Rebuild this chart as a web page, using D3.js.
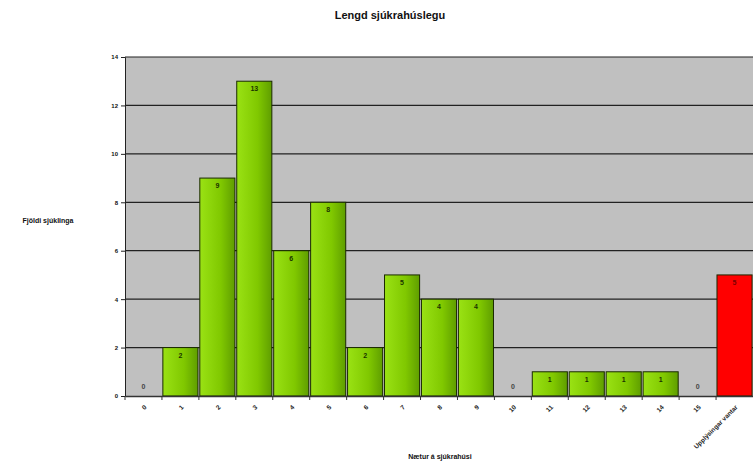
<!DOCTYPE html>
<html><head><meta charset="utf-8">
<script src="https://cdn.jsdelivr.net/npm/d3@7"></script>
<style>body{margin:0;background:#fff}svg{display:block;font-family:Arial,"Liberation Sans",sans-serif}</style>
</head><body>
<script>
const categories = ["0","1","2","3","4","5","6","7","8","9","10","11","12","13","14","15","Upplýsingar vantar"];
const values = [0,2,9,13,6,8,2,5,4,4,0,1,1,1,1,0,5];
const yTicks = [0,2,4,6,8,10,12,14];
const title = "Lengd sjúkrahúslegu";
const yTitle = "Fjöldi sjúklinga";
const xTitle = "Nætur á sjúkrahúsi";

const W = 753, H = 464;
const m = {left:125, right:0, top:57, bottom:68};
const svg = d3.select("body").append("svg").attr("width",W).attr("height",H);
const defs = svg.append("defs");
const g1 = defs.append("linearGradient").attr("id","gr").attr("x1","0").attr("x2","1").attr("y1","0").attr("y2","0");
g1.append("stop").attr("offset","0").attr("stop-color","#9ae214");
g1.append("stop").attr("offset","0.6").attr("stop-color","#80c800");
g1.append("stop").attr("offset","1").attr("stop-color","#5f9e00");

const x = d3.scaleBand().domain(categories).range([m.left, W-m.right]).paddingInner(0.05).paddingOuter(0.025);
const y = d3.scaleLinear().domain([0,14]).range([H-m.bottom, m.top]);

svg.append("rect").attr("x",m.left).attr("y",m.top).attr("width",W-m.right-m.left).attr("height",H-m.bottom-m.top).attr("fill","#c0c0c0");

// grid
svg.append("g").selectAll("line").data(yTicks.filter(d=>d>0)).join("line")
  .attr("x1",m.left).attr("x2",W-m.right).attr("y1",d=>y(d)).attr("y2",d=>y(d))
  .attr("stroke","#222").attr("stroke-width",1.2);

// bars
svg.append("g").selectAll("rect").data(values).join("rect")
  .attr("x",(d,i)=>x(categories[i])).attr("width",x.bandwidth())
  .attr("y",d=>y(d)).attr("height",d=>y(0)-y(d))
  .attr("fill",(d,i)=>i===categories.length-1?"#ff0000":"url(#gr)")
  .attr("stroke","#1a2a00").attr("stroke-width",1)
  .attr("display",d=>d>0?null:"none");

// value labels
svg.append("g").selectAll("text").data(values).join("text")
  .attr("x",(d,i)=>x(categories[i])+x.bandwidth()/2)
  .attr("y",d=>d>0?y(d)+10:y(0)-7)
  .attr("text-anchor","middle").attr("font-size",7).attr("font-weight","bold")
  .attr("fill",(d,i)=>i===categories.length-1?"#7a0000":(d>0?"#1a3300":"#444"))
  .text(d=>d);

// y axis
const ya = svg.append("g").attr("transform",`translate(${m.left},0)`)
  .call(d3.axisLeft(y).tickValues(yTicks).tickSize(4).tickPadding(3));
ya.selectAll("text").attr("font-size",6).attr("font-weight","bold").attr("fill","#111");
ya.select(".domain").attr("stroke","#222");
ya.selectAll(".tick line").attr("stroke","#222");

// x axis
const xa = svg.append("g").attr("transform",`translate(0,${y(0)})`)
  .call(d3.axisBottom(x).tickSize(0).tickPadding(0));
xa.select(".domain").attr("stroke","#333").attr("stroke-width",1.5);
xa.selectAll(".tick text").attr("font-size",6.5).attr("font-weight","bold").attr("fill","#222")
  .attr("text-anchor","end").attr("transform","translate(2,10) rotate(-45)").attr("dy","0.35em");
// boundary ticks
const bounds = categories.map(c=>x(c)-x.step()*x.paddingInner()/2);
svg.append("g").selectAll("line").data(bounds).join("line")
  .attr("x1",d=>d).attr("x2",d=>d).attr("y1",y(0)).attr("y2",y(0)+4)
  .attr("stroke","#333");

svg.append("text").attr("x",390).attr("y",19).attr("text-anchor","middle")
  .attr("font-size",11).attr("font-weight","bold").attr("fill","#111").text(title);
svg.append("text").attr("x",48).attr("y",223).attr("text-anchor","middle")
  .attr("font-size",7).attr("font-weight","bold").attr("fill","#111").text(yTitle);
svg.append("text").attr("x",440).attr("y",459).attr("text-anchor","middle")
  .attr("font-size",7).attr("font-weight","bold").attr("fill","#111").text(xTitle);
</script>
</body></html>
